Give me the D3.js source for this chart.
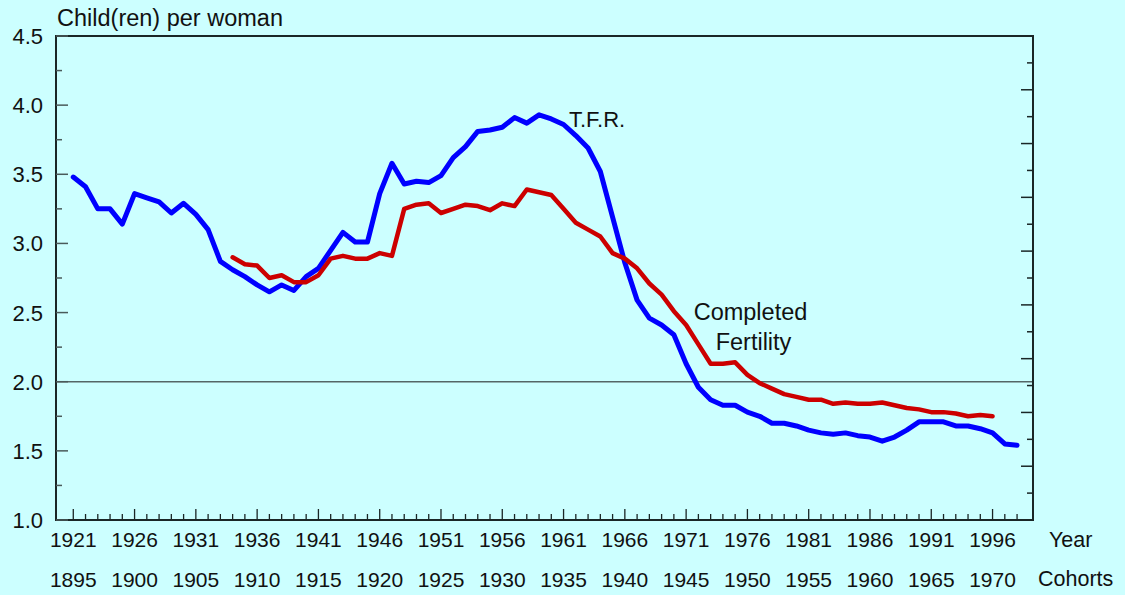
<!DOCTYPE html>
<html>
<head>
<meta charset="utf-8">
<script src="https://cdn.jsdelivr.net/npm/d3@7"></script>
<style>
  html, body { margin: 0; padding: 0; background: #ccffff; }
  svg { display: block; font-family: "Liberation Sans", Arial, sans-serif; }
</style>
</head>
<body>
<svg id="chart" width="1125" height="595"></svg>
<script>
// ---- data ----
const tfrYears = d3.range(1921, 1999);
const tfrValues = [3.48, 3.41, 3.25, 3.25, 3.14, 3.36, 3.33, 3.30, 3.22, 3.29,
  3.21, 3.10, 2.87, 2.81, 2.76, 2.70, 2.65, 2.70, 2.66, 2.76,
  2.82, 2.95, 3.08, 3.01, 3.01, 3.36, 3.58, 3.43, 3.45, 3.44,
  3.49, 3.62, 3.70, 3.81, 3.82, 3.84, 3.91, 3.87, 3.93, 3.90,
  3.86, 3.78, 3.69, 3.52, 3.19, 2.86, 2.59, 2.46, 2.41, 2.34,
  2.13, 1.96, 1.87, 1.83, 1.83, 1.78, 1.75, 1.70, 1.70, 1.68,
  1.65, 1.63, 1.62, 1.63, 1.61, 1.60, 1.57, 1.60, 1.65, 1.71,
  1.71, 1.71, 1.68, 1.68, 1.66, 1.63, 1.55, 1.54];
const cohortYears = d3.range(1908, 1971);   // plotted at cohort + 26
const completedValues = [2.90, 2.85, 2.84, 2.75, 2.77, 2.72, 2.72, 2.77, 2.89, 2.91,
  2.89, 2.89, 2.93, 2.91, 3.25, 3.28, 3.29, 3.22, 3.25, 3.28,
  3.27, 3.24, 3.29, 3.27, 3.39, 3.37, 3.35, 3.25, 3.15, 3.10,
  3.05, 2.93, 2.89, 2.82, 2.71, 2.63, 2.51, 2.41, 2.27, 2.13,
  2.13, 2.14, 2.05, 1.99, 1.95, 1.91, 1.89, 1.87, 1.87, 1.84,
  1.85, 1.84, 1.84, 1.85, 1.83, 1.81, 1.80, 1.78, 1.78, 1.77,
  1.75, 1.76, 1.75];
const cohortOffset = 26;
const yearTickLabels = d3.range(1921, 1997, 5);
const cohortTickLabels = d3.range(1895, 1971, 5);
const yTicks = [1.0, 1.5, 2.0, 2.5, 3.0, 3.5, 4.0, 4.5];
const replacementLevel = 2.0;

// ---- layout ----
const svg = d3.select("#chart");
const L = 56, R = 1033, T = 36, B = 520;

const x = d3.scaleLinear().domain([1919.59, 1999.30]).range([L, R]);
const y = d3.scaleLinear().domain([1.0, 4.5]).range([B, T]);
const yRight = d3.scaleLinear().domain([0, 18]).range([B, T]);

// replacement line
svg.append("line")
  .attr("x1", L).attr("x2", R)
  .attr("y1", y(replacementLevel)).attr("y2", y(replacementLevel))
  .attr("stroke", "#556666").attr("stroke-width", 1.5);

// frame
svg.append("rect")
  .attr("x", L).attr("y", T).attr("width", R - L).attr("height", B - T)
  .attr("fill", "none").attr("stroke", "#1a2626").attr("stroke-width", 2);

// left axis ticks (inward)
const leftTicks = d3.range(1.0, 4.51, 0.25);
svg.append("g").selectAll("line").data(leftTicks).join("line")
  .attr("x1", L).attr("x2", (d, i) => L + (i % 2 === 0 ? 12 : 6))
  .attr("y1", d => y(d)).attr("y2", d => y(d))
  .attr("stroke", "#4a5a5a").attr("stroke-width", 1.5);

// right axis ticks (inward)
svg.append("g").selectAll("line").data(d3.range(1, 18)).join("line")
  .attr("x1", R).attr("x2", d => R - (d % 2 === 0 ? 12 : 6))
  .attr("y1", d => yRight(d)).attr("y2", d => yRight(d))
  .attr("stroke", "#1a2626").attr("stroke-width", 1.5);

// bottom axis ticks (upward)
svg.append("g").selectAll("line").data(d3.range(1921, 1999)).join("line")
  .attr("x1", d => x(d)).attr("x2", d => x(d))
  .attr("y1", B).attr("y2", d => B - ((d - 1921) % 5 === 0 ? 11 : 6))
  .attr("stroke", "#1a2626").attr("stroke-width", 1.3);

// y labels
svg.append("g").selectAll("text").data(yTicks).join("text")
  .attr("x", 43).attr("y", d => y(d) + 8)
  .attr("text-anchor", "end").attr("font-size", 22).attr("fill", "#111")
  .text(d => d.toFixed(1));

// x labels
svg.append("g").selectAll("text").data(yearTickLabels).join("text")
  .attr("x", d => x(d)).attr("y", 547)
  .attr("text-anchor", "middle").attr("font-size", 21).attr("fill", "#111")
  .text(d => d);
svg.append("g").selectAll("text").data(cohortTickLabels).join("text")
  .attr("x", d => x(d + cohortOffset)).attr("y", 587)
  .attr("text-anchor", "middle").attr("font-size", 21).attr("fill", "#111")
  .text(d => d);

svg.append("text").attr("x", 1049).attr("y", 547).attr("font-size", 21.5).attr("fill", "#111").text("Year");
svg.append("text").attr("x", 1038).attr("y", 586).attr("font-size", 21.5).attr("fill", "#111").text("Cohorts");
svg.append("text").attr("x", 57).attr("y", 26).attr("font-size", 23.5).attr("fill", "#111").text("Child(ren) per woman");

// lines
const line = d3.line().x(d => x(d[0])).y(d => y(d[1]));
svg.append("path")
  .datum(tfrYears.map((yr, i) => [yr, tfrValues[i]]))
  .attr("fill", "none").attr("stroke", "#0000ff").attr("stroke-width", 5)
  .attr("stroke-linejoin", "round").attr("stroke-linecap", "round")
  .attr("d", line);
svg.append("path")
  .datum(cohortYears.map((c, i) => [c + cohortOffset, completedValues[i]]))
  .attr("fill", "none").attr("stroke", "#cc0000").attr("stroke-width", 4.5)
  .attr("stroke-linejoin", "round").attr("stroke-linecap", "round")
  .attr("d", line);

// annotations
svg.append("text").attr("x", 569).attr("y", 127).attr("font-size", 22).attr("fill", "#111").text("T.F.R.");
svg.append("text").attr("x", 750.5).attr("y", 320).attr("text-anchor", "middle").attr("font-size", 23.5).attr("fill", "#111").text("Completed");
svg.append("text").attr("x", 753.5).attr("y", 350).attr("text-anchor", "middle").attr("font-size", 23.5).attr("fill", "#111").text("Fertility");
</script>
</body>
</html>
